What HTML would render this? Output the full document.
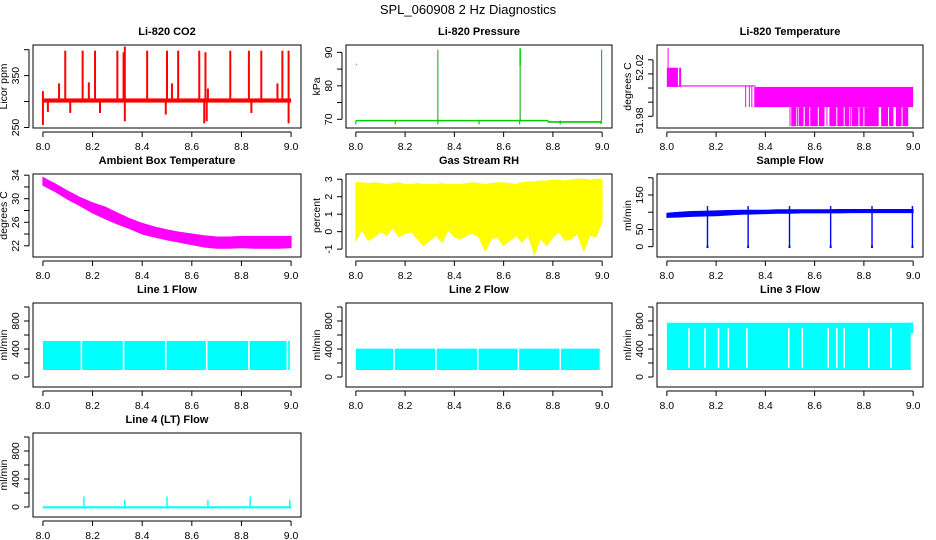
<!DOCTYPE html>
<html><head><meta charset="utf-8"><style>
html,body{margin:0;padding:0;background:#fff;}
svg{display:block;font-family:"Liberation Sans",Arial,sans-serif;}
</style></head><body>
<svg id="c" width="936" height="540" viewBox="0 0 936 540" xmlns="http://www.w3.org/2000/svg">
<text x="468" y="14" text-anchor="middle" font-size="13">SPL_060908  2 Hz Diagnostics</text>
</svg>
<script>
// ---- data ----
const xTicks = [8.0, 8.2, 8.4, 8.6, 8.8, 9.0];
const xTickLabels = ["8.0", "8.2", "8.4", "8.6", "8.8", "9.0"];
const co2Base = 302;
const co2Spikes = [[8.0,255],[8.0,320],[8.02,280],[8.065,335],[8.09,398],[8.11,278],[8.16,398],[8.185,337],[8.21,398],[8.23,278],[8.30,398],[8.325,395],[8.33,406],[8.33,262],[8.42,398],[8.50,398],[8.495,275],[8.52,335],[8.545,398],[8.63,398],[8.655,395],[8.65,258],[8.66,262],[8.665,325],[8.755,398],[8.83,398],[8.84,278],[8.88,398],[8.945,335],[8.965,398],[8.99,398],[8.99,258]];
const presBaseX = [8.0, 8.78, 8.78, 9.0];
const presBaseY = [69.6, 69.6, 69.2, 69.2];
const presSpikes = [[8.333,90.8],[8.667,91.2],[8.998,90.8]];
const presDips = [8.0,8.16,8.333,8.5,8.665,8.83,8.995];
const presDot = [8.0, 86.4];
const t820Bands = [[8.0,8.045,52.0108,52.0244],[8.05,8.058,52.0108,52.0244],[8.355,9.0,51.9965,52.0108],[8.56,8.64,51.983,51.9965],[8.66,8.74,51.983,51.9965],[8.75,8.86,51.983,51.9965],[8.87,8.92,51.983,51.9965],[8.93,8.98,51.983,51.9965],[8.505,8.525,51.983,51.9965],[8.535,8.555,51.983,51.9965]];
const t820Lines = [[8.005,52.0108,52.0383],[8.32,51.9965,52.0115],[8.335,51.9965,52.0115],[8.345,51.9965,52.0115],[8.50,51.983,51.9965],[8.53,51.983,51.9965],[8.545,51.983,51.9965],[8.65,51.983,51.9965],[8.745,51.983,51.9965]];
const t820WhiteGaps = [8.58,8.615,8.69,8.72,8.78,8.80,8.90,8.955];
const t820Base = [8.0, 8.36, 52.0115];
const ambX = [8.0,8.05,8.1,8.15,8.2,8.25,8.3,8.35,8.4,8.45,8.5,8.55,8.6,8.65,8.7,8.75,8.8,8.85,8.9,8.95,9.0];
const ambHi = [33.6,32.5,31.3,30.2,29.3,28.6,27.6,26.6,25.8,25.2,24.7,24.3,24.0,23.7,23.5,23.5,23.6,23.6,23.6,23.6,23.6];
const ambLo = [32.3,31.2,29.9,28.8,27.6,26.6,25.7,24.9,24.0,23.5,23.0,22.6,22.2,21.8,21.6,21.6,21.7,21.6,21.6,21.6,21.7];
const rhX = [8.0,8.025,8.05,8.075,8.1,8.125,8.15,8.175,8.2,8.225,8.25,8.275,8.3,8.325,8.35,8.375,8.4,8.425,8.45,8.475,8.5,8.525,8.55,8.575,8.6,8.625,8.65,8.675,8.7,8.725,8.75,8.775,8.8,8.825,8.85,8.875,8.9,8.925,8.95,8.975,9.0];
const rhHi = [2.8,2.8,2.75,2.8,2.75,2.7,2.75,2.8,2.7,2.7,2.75,2.7,2.7,2.7,2.75,2.7,2.7,2.7,2.75,2.8,2.75,2.7,2.75,2.8,2.8,2.75,2.7,2.8,2.85,2.85,2.9,2.9,2.95,2.95,2.9,2.95,3.0,3.0,2.95,3.0,3.0];
const rhLo = [-0.5,0.1,-0.5,-0.3,0.0,-0.2,0.2,-0.3,-0.1,0.0,-0.4,-0.8,-0.5,-0.2,-0.6,0.1,-0.3,-0.4,-0.2,-0.1,-0.3,-1.1,-0.4,-0.3,-0.8,-0.5,-0.2,-0.6,-0.2,-1.3,-0.4,-0.8,-0.3,0.0,-0.5,-0.4,-0.1,-1.1,-0.2,-0.3,0.6];
const sfX = ambX;
const sfHi = [97,100,102,103,104,105,106,106,106,107,107,107,107,107,108,108,108,108,108,108,108];
const sfLo = [85,86,88,89,90,92,94,95,96,97,97,98,98,98,98,99,99,99,99,99,99];
const sfDips = [8.165,8.33,8.498,8.665,8.833,8.997];
const l1Band = [8.0, 8.995, 100, 515];
const l1Gaps = [8.155,8.325,8.495,8.66,8.83,8.985];
const l2Band = [8.0, 8.99, 100, 405];
const l2Gaps = [8.155,8.325,8.495,8.66,8.83];
const l3Band = [8.0, 8.99, 100, 775];
const l3Gaps = [8.09,8.155,8.21,8.25,8.325,8.495,8.55,8.655,8.69,8.72,8.82,8.91];
const l4Base = -5;
const l4Spikes = [[8.165,150],[8.33,100],[8.50,150],[8.665,100],[8.835,150],[8.995,100]];

// ---- layout ----
const svg = document.getElementById('c');
const NS = 'http://www.w3.org/2000/svg';
const colL = [33, 346, 657], colR = [301, 612, 923];
const rowT = [45, 174, 303, 433], rowB = [128, 257, 387, 517];
function mk(tag, attrs, parent) {
  const e = document.createElementNS(NS, tag);
  for (const k in attrs) e.setAttribute(k, attrs[k]);
  (parent || svg).appendChild(e);
  return e;
}
function panel(col, row, title, ylab, ylim, yt, ylabels) {
  const L = colL[col], R = colR[col], T = rowT[row], B = rowB[row];
  const g = mk('g', {});
  
  
  const sx = v => L + (v - 7.96) / 1.08 * (R - L);
  const sy = v => B - (v - ylim[0]) / (ylim[1] - ylim[0]) * (B - T);
  const data = mk('g', {}, g);
  
  
  const box = mk('rect', {x: L, y: T, width: R - L, height: B - T, fill: 'none', stroke: '#000', 'stroke-width': 1}, g);
  
  
  const xa = mk('g', {}, g);
  
  
  mk('line', {x1: sx(xTicks[0]), x2: sx(xTicks[xTicks.length - 1]), y1: B + 4, y2: B + 4, stroke: '#000'}, xa);
  xTicks.forEach((t, i) => {
    mk('line', {x1: sx(t), x2: sx(t), y1: B + 4, y2: B + 9, stroke: '#000'}, xa);
    const tx = mk('text', {x: sx(t), y: B + 22, 'text-anchor': 'middle', 'font-size': 10.5}, xa);
    
    
    tx.textContent = xTickLabels[i];
  });
  const ya = mk('g', {}, g);
  
  
  mk('line', {x1: L - 4, x2: L - 4, y1: sy(yt[0]), y2: sy(yt[yt.length - 1]), stroke: '#000'}, ya);
  yt.forEach(t => mk('line', {x1: L - 9, x2: L - 4, y1: sy(t), y2: sy(t), stroke: '#000'}, ya));
  ylabels.forEach(p => {
    const y = sy(p[0]);
    const tx = mk('text', {x: L - 14, y: y, 'text-anchor': 'middle', 'font-size': 10.5, transform: 'rotate(-90 ' + (L - 14) + ' ' + y + ')'}, ya);
    
    
    tx.textContent = p[1];
  });
  const cy = (T + B) / 2;
  const yl = mk('text', {x: L - 26, y: cy, 'text-anchor': 'middle', 'font-size': 10.5, transform: 'rotate(-90 ' + (L - 26) + ' ' + cy + ')'}, g);
  
  
  yl.textContent = ylab;
  const tt = mk('text', {x: (L + R) / 2, y: T - 10, 'text-anchor': 'middle', 'font-size': 11, 'font-weight': 'bold'}, g);
  
  
  tt.textContent = title;
  return {sx, sy, g: data};
}
function vline(p, x, y0, y1, color, w, name) {
  const e = mk('line', {x1: p.sx(x), x2: p.sx(x), y1: p.sy(y0), y2: p.sy(y1), stroke: color, 'stroke-width': w || 1}, p.g);
  
  
  return e;
}
function band(p, x0, x1, lo, hi, color, name) {
  const e = mk('rect', {x: p.sx(x0), y: p.sy(hi), width: p.sx(x1) - p.sx(x0), height: p.sy(lo) - p.sy(hi), fill: color}, p.g);
  
  
  return e;
}
function envelope(p, xs, hi, lo, color, name) {
  let d = '';
  xs.forEach((x, i) => d += (i ? 'L' : 'M') + p.sx(x).toFixed(1) + ' ' + p.sy(hi[i]).toFixed(1));
  for (let i = xs.length - 1; i >= 0; i--) d += 'L' + p.sx(xs[i]).toFixed(1) + ' ' + p.sy(lo[i]).toFixed(1);
  const e = mk('path', {d: d + 'Z', fill: color, stroke: color, 'stroke-width': 1}, p.g);
  
  
}

// CO2
let p = panel(0, 0, 'Li-820 CO2', 'Licor ppm', [249, 409], [250, 300, 350, 400], [[250, '250'], [350, '350']]);
band(p, 8.0, 9.0, co2Base - 4, co2Base + 4, '#f00', 'co2-baseline');
co2Spikes.forEach(s => vline(p, s[0], co2Base, s[1], '#f00', 2, 'co2-spike'));

// Pressure
p = panel(1, 0, 'Li-820 Pressure', 'kPa', [67.4, 92.2], [70, 75, 80, 85, 90], [[70, '70'], [80, '80'], [90, '90']]);
for (let i = 0; i < presBaseX.length - 1; i++) {
  const e = mk('line', {x1: p.sx(presBaseX[i]), x2: p.sx(presBaseX[i + 1]), y1: p.sy(presBaseY[i]), y2: p.sy(presBaseY[i + 1]), stroke: '#0c0', 'stroke-width': 1.6}, p.g);
  
  
}
presSpikes.forEach(s => vline(p, s[0], 69.6, s[1], '#0a0', 1, 'pressure-spike'));
band(p, 8.664, 8.67, 86, 91.2, '#0c0', 'pressure-cluster');
presDips.forEach(x => vline(p, x, 69.6, 68.5, '#0c0', 1.2, 'pressure-dip'));
band(p, presDot[0], presDot[0] + 0.004, presDot[1] - 0.2, presDot[1] + 0.2, '#0c0', 'pressure-dot');

// Li-820 temperature
p = panel(2, 0, 'Li-820 Temperature', 'degrees C', [51.9817, 52.0405], [51.99, 52.00, 52.01, 52.02, 52.03], [[51.987, '51.98'], [52.0245, '52.02']]);
t820Bands.forEach(b => band(p, b[0], b[1], b[2], b[3], '#f0f', 'temperature-band'));
t820Lines.forEach(l => vline(p, l[0], l[1], l[2], '#f0f', 1, 'temperature-step'));
t820WhiteGaps.forEach(x => vline(p, x, 51.983, 51.9963, '#fff', 1, 'temperature-gap'));
band(p, t820Base[0], t820Base[1], t820Base[2] - 0.0004, t820Base[2] + 0.0004, '#f0f', 'temperature-baseline');

// Ambient
p = panel(0, 1, 'Ambient Box Temperature', 'degrees C', [20.1, 34.2], [22, 24, 26, 28, 30, 32, 34], [[22, '22'], [26, '26'], [30, '30'], [34, '34']]);
envelope(p, ambX, ambHi, ambLo, '#f0f', 'ambient-temperature-band');

// RH
p = panel(1, 1, 'Gas Stream RH', 'percent', [-1.45, 3.3], [-1, 0, 1, 2, 3], [[-1, '-1'], [0, '0'], [1, '1'], [2, '2'], [3, '3']]);
envelope(p, rhX, rhHi, rhLo, '#ff0', 'rh-band');

// Sample flow
p = panel(2, 1, 'Sample Flow', 'ml/min', [-30, 211], [0, 50, 100, 150, 200], [[0, '0'], [50, '50'], [150, '150']]);
envelope(p, sfX, sfHi, sfLo, '#00f', 'sample-flow-band');
sfDips.forEach(x => { vline(p, x, 118, -3, '#00f', 1.4, 'sample-flow-dip'); band(p, x - 0.004, x + 0.004, -4, 3, '#00f', 'sample-flow-dip-foot'); });

// Line flows
const flowTicks = [0, 200, 400, 600, 800, 1000];
const flowLabels = [[0, '0'], [400, '400'], [800, '800']];
function flowPanel(col, row, title, b, gaps, name) {
  const q = panel(col, row, title, 'ml/min', [-143, 1057], flowTicks, flowLabels);
  band(q, b[0], b[1], b[2], b[3], '#0ff', name + '-band');
  gaps.forEach(x => vline(q, x, b[2] - 5, b[3] + 5, '#fff', 1.6, name + '-gap'));
  return q;
}
flowPanel(0, 2, 'Line 1 Flow', l1Band, l1Gaps, 'line1');
flowPanel(1, 2, 'Line 2 Flow', l2Band, l2Gaps, 'line2');
p = flowPanel(2, 2, 'Line 3 Flow', l3Band, [], 'line3');
l3Gaps.forEach(x => vline(p, x, 130, 700, '#fff', 1.6, 'line3-gap'));
band(p, 8.99, 9.0, 620, 780, '#0ff', 'line3-tail');
p = panel(0, 3, 'Line 4 (LT) Flow', 'ml/min', [-143, 1057], flowTicks, flowLabels);
band(p, 8.0, 9.0, l4Base - 15, l4Base + 15, '#0ff', 'line4-baseline');
l4Spikes.forEach(s => vline(p, s[0], l4Base, s[1], '#0ff', 1.4, 'line4-spike'));
</script>
</body></html>
